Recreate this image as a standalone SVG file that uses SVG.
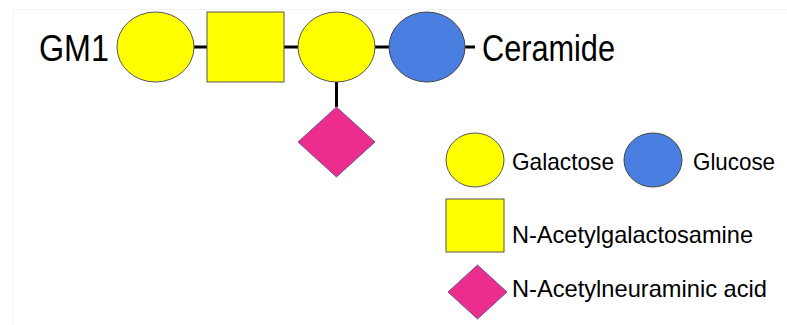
<svg xmlns="http://www.w3.org/2000/svg" width="787" height="325" viewBox="0 0 787 325">
<style>
.gal{fill:#FFFF00;stroke:#555555;stroke-width:1}
.glc{fill:#4A7FE1;stroke:#444444;stroke-width:1}
.nac{fill:#EC2D8E;stroke:#6A5C9A;stroke-width:1}
.link{stroke:#000;stroke-width:3;fill:none}
.big{font-family:"Liberation Sans",Arial,sans-serif;font-size:36px;fill:#000}
.lab{font-family:"Liberation Sans",Arial,sans-serif;font-size:24px;fill:#000}
.frame{stroke:#f2f2f2;stroke-width:1;fill:none}
</style>
<rect width="787" height="325" fill="#ffffff"/>
<path class="frame" d="M13,325 V9.5 H787"/>
<g id="connectors">
<line class="link" x1="194" y1="47" x2="207" y2="47"/>
<line class="link" x1="284" y1="47" x2="298" y2="47"/>
<line class="link" x1="375" y1="47" x2="389" y2="47"/>
<line class="link" x1="465" y1="47" x2="475" y2="47"/>
<line class="link" x1="336.5" y1="82" x2="336.5" y2="107"/>
</g>
<g id="label-gm1"><text class="big" x="39" y="61" textLength="70" lengthAdjust="spacingAndGlyphs">GM1</text></g>
<g id="gal1"><ellipse class="gal" cx="155.5" cy="47" rx="38.5" ry="35"/></g>
<g id="galnac"><rect class="gal" x="207" y="12" width="77" height="70"/></g>
<g id="gal2"><ellipse class="gal" cx="336.5" cy="47" rx="38.5" ry="35"/></g>
<g id="glc"><ellipse class="glc" cx="427" cy="47" rx="38" ry="35"/></g>
<g id="label-ceramide"><text class="big" x="482" y="61" textLength="133" lengthAdjust="spacingAndGlyphs">Ceramide</text></g>
<g id="neu5ac"><polygon class="nac" points="336.5,107 375,142 336.5,177 298,142"/></g>
<g id="legend">
<ellipse class="gal" cx="475" cy="160" rx="29" ry="27"/>
<text class="lab" x="512" y="170" textLength="102" lengthAdjust="spacingAndGlyphs">Galactose</text>
<ellipse class="glc" cx="653" cy="160" rx="29" ry="27"/>
<text class="lab" x="693" y="170" textLength="82" lengthAdjust="spacingAndGlyphs">Glucose</text>
<rect class="gal" x="446" y="199" width="58" height="53"/>
<text class="lab" x="512" y="243" textLength="241" lengthAdjust="spacingAndGlyphs">N-Acetylgalactosamine</text>
<polygon class="nac" points="477.5,265 507,292 477.5,319 448,292"/>
<text class="lab" x="512" y="297" textLength="255" lengthAdjust="spacingAndGlyphs">N-Acetylneuraminic acid</text>
</g>
</svg>
